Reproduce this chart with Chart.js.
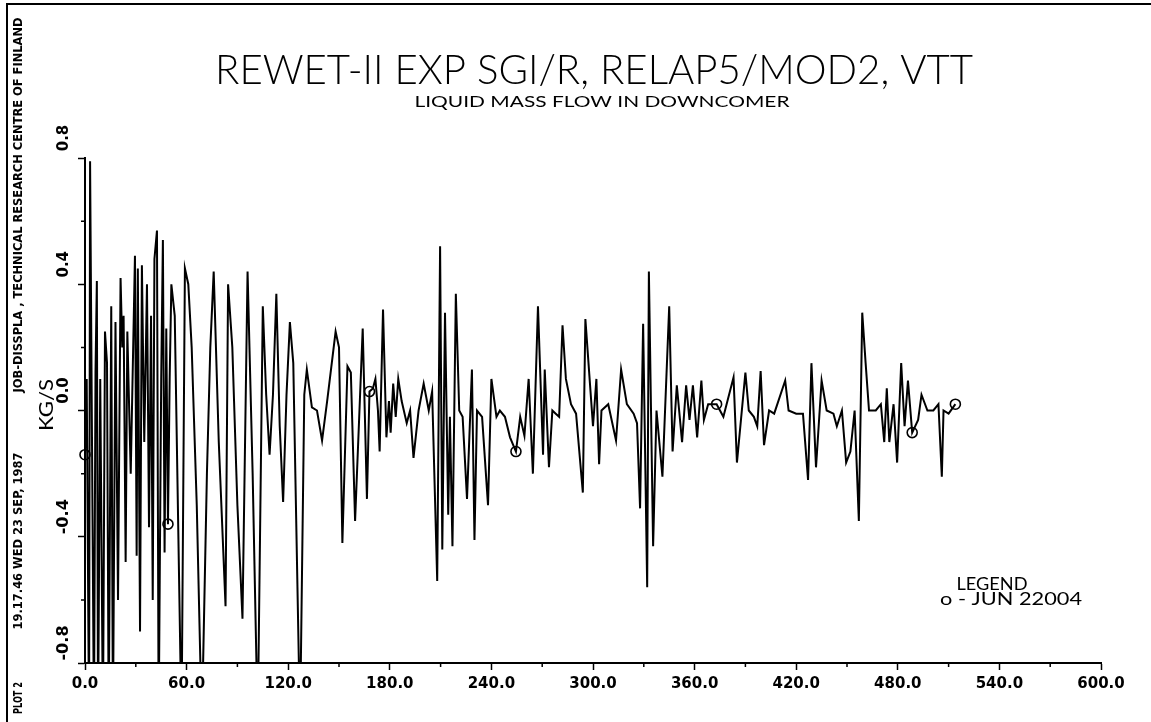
<!DOCTYPE html>
<html>
<head>
<meta charset="utf-8">
<script src="https://cdn.jsdelivr.net/npm/chart.js@4.4.1/dist/chart.umd.min.js"></script>
<style>
  html, body { margin: 0; padding: 0; background: #fff; }
  #plot { display: block; }
</style>
</head>
<body>
<canvas id="plot" width="1151" height="722"></canvas>
<script>
// time (s) and liquid mass flow (kg/s); values below -0.8 run off the axis
const timeSec = [
  0, 1, 2.4, 3, 5.3, 6.2, 7, 7.7, 9, 10.6, 11.8, 13, 14, 15.5, 16.5, 18, 19.5, 21, 22, 22.8, 24,
  25, 27, 29.5, 30.5, 31.2, 32.5, 33.6, 35, 36.6, 37.8, 39, 40, 41, 42.5, 43.5, 45, 46, 47, 48, 49,
  50, 51, 53, 57, 59, 61, 63, 66, 69, 72, 74, 76, 79, 83, 84.5, 87, 90, 93, 96, 99,
  102, 105, 107, 109, 111, 113, 115, 117, 119, 121, 123, 127, 129.5, 131, 134, 137, 140, 143, 148, 150,
  152, 155, 157, 159.5, 164, 166.5, 168, 170, 171.5, 173, 174, 176, 178, 179.5, 180.5, 182, 183.5, 185, 187, 190,
  192, 194, 197, 200, 203, 205, 208, 209.7, 211, 212.6, 214.5, 215.5, 217, 219, 221, 223, 225.6, 228.5, 230, 231.5,
  234.5, 238, 240, 243, 245, 248, 251, 254.5, 257, 259.5, 262, 264.5, 267.5, 270.5, 271.5, 274, 276, 278, 280, 282,
  284, 287, 290, 294, 295.5, 298, 300, 302, 303.6, 305, 309, 313.6, 316.6, 320, 324, 326, 327.8, 329.6, 332, 333,
  335.5, 337.5, 341, 345, 347, 349.5, 352.6, 355, 357, 359, 361.5, 364, 365.5, 368, 373, 377, 383, 385, 390, 392,
  395, 397, 399, 401, 404, 407, 413.5, 415.5, 420, 424, 427, 429, 431.7, 435, 438, 442, 444, 447, 449.5, 452,
  454.5, 457, 459, 461, 463, 467, 470, 472, 473.5, 475, 477.5, 479.6, 482, 484, 486, 488.5, 492, 494, 497.5, 501,
  504, 506, 507, 510, 514
];
const flowKgs = [
  -0.14, 0.10, -1.0, 0.79, -1.0, 0.12, 0.41, -1.0, 0.10, -1.0, 0.25, 0.15, -1.0, 0.33, -1.0, 0.28, -0.60, 0.42, 0.20, 0.30, -0.48,
  0.25, -0.20, 0.49, -0.46, 0.45, -0.70, 0.46, -0.10, 0.40, -0.37, 0.30, -0.60, 0.48, 0.57, -1.0, 0.10, 0.54, -0.45, 0.26, -0.36,
  0.10, 0.40, 0.30, -1.0, 0.45, 0.40, 0.20, -0.30, -1.0, -0.20, 0.20, 0.44, -0.10, -0.62, 0.40, 0.20, -0.30, -0.66, 0.44, -0.20,
  -1.0, 0.33, 0.05, -0.14, 0.05, 0.37, -0.05, -0.29, 0.05, 0.28, 0.15, -1.0, 0.05, 0.13, 0.01, 0.00, -0.095, 0.03, 0.25, 0.20,
  -0.42, 0.14, 0.12, -0.35, 0.26, -0.28, 0.06, 0.07, 0.10, 0.00, -0.13, 0.32, -0.085, 0.03, -0.07, 0.085, -0.02, 0.10, 0.03, -0.04,
  0.00, -0.15, 0.00, 0.085, 0.00, 0.06, -0.54, 0.52, -0.44, 0.31, -0.33, -0.02, -0.43, 0.37, 0.00, -0.02, -0.28, 0.13, -0.41, 0.00,
  -0.02, -0.30, 0.10, -0.02, 0.00, -0.02, -0.085, -0.13, -0.02, -0.08, 0.10, -0.20, 0.33, -0.14, 0.13, -0.18, 0.00, -0.01, -0.02, 0.27,
  0.10, 0.02, -0.01, -0.26, 0.29, 0.10, -0.05, 0.10, -0.17, 0.00, 0.02, -0.095, 0.13, 0.02, -0.01, -0.04, -0.31, 0.275, -0.56, 0.44,
  -0.43, 0.00, -0.21, 0.33, -0.13, 0.08, -0.10, 0.08, -0.03, 0.08, -0.085, 0.095, -0.03, 0.02, 0.02, -0.02, 0.105, -0.165, 0.12, 0.00,
  -0.02, -0.05, 0.125, -0.11, 0.00, -0.01, 0.095, 0.00, -0.01, -0.01, -0.22, 0.15, -0.18, 0.095, 0.00, -0.01, -0.05, 0.00, -0.165, -0.13,
  0.00, -0.35, 0.31, 0.15, 0.00, 0.00, 0.02, -0.10, 0.07, -0.10, 0.02, -0.165, 0.15, -0.05, 0.095, -0.07, -0.03, 0.05, 0.00, 0.00,
  0.02, -0.21, 0.00, -0.01, 0.02
];
// samples that carry the circle symbol
const markedTimes = [0, 49, 168, 254.5, 373, 488.5, 514];
const yTickValues = [-0.8, -0.4, 0.0, 0.4, 0.8];
const seriesName = 'JUN 22004';

const FONT = '"DejaVu Sans Condensed", "DejaVu Sans", sans-serif';
const THIN = '"Lato", "Open Sans", "DejaVu Sans", sans-serif';

// draw text squeezed/stretched to a given width, optionally rotated
function fitText(ctx, text, cx, cy, width, font, rot, sy) {
  ctx.save();
  ctx.font = font;
  const w = ctx.measureText(text).width;
  ctx.translate(cx, cy);
  if (rot) ctx.rotate(rot);
  ctx.scale(width / w, sy || 1);
  ctx.textAlign = 'center';
  ctx.textBaseline = 'middle';
  ctx.fillStyle = '#000';
  ctx.fillText(text, 0, 0);
  ctx.restore();
}

const decor = {
  id: 'decor',
  afterDraw(chart) {
    const ctx = chart.ctx;
    const xs = chart.scales.x, ys = chart.scales.y;

    // frame of the sheet
    ctx.save();
    ctx.strokeStyle = '#000';
    ctx.lineWidth = 2;
    ctx.beginPath();
    ctx.moveTo(1151, 4); ctx.lineTo(7, 4); ctx.lineTo(7, 722);
    ctx.stroke();

    // minor ticks
    ctx.lineWidth = 1.5;
    ctx.beginPath();
    for (let t = 30; t < 600; t += 60) {
      const px = xs.getPixelForValue(t);
      ctx.moveTo(px, xs.top); ctx.lineTo(px, xs.top + 4);
    }
    for (let v = -0.6; v < 0.8; v += 0.4) {
      const py = ys.getPixelForValue(v);
      ctx.moveTo(ys.right, py); ctx.lineTo(ys.right - 4, py);
    }
    ctx.stroke();
    ctx.restore();

    // titles
    fitText(ctx, 'REWET-II EXP SGI/R, RELAP5/MOD2, VTT', 594, 71, 758, '300 39px ' + THIN, 0, 1.05);
    fitText(ctx, 'LIQUID MASS FLOW IN DOWNCOMER', 602, 102, 375, '400 16px ' + THIN, 0, 1);

    // y tick labels, rotated like the original
    yTickValues.forEach(v => {
      const py = ys.getPixelForValue(v);
      const txt = v.toFixed(1);
      fitText(ctx, txt, 64, py - 20, txt.length * 8.8, 'bold 15px ' + FONT, -Math.PI / 2);
    });
    fitText(ctx, 'KG/S', 47, 405, 52, '19px ' + THIN, -Math.PI / 2);

    // run stamp in the margin
    fitText(ctx, 'PLOT 2', 19, 698, 32, 'bold 12px ' + FONT, -Math.PI / 2);
    fitText(ctx, '19.17.46 WED 23 SEP, 1987', 19, 541, 177, 'bold 12px ' + FONT, -Math.PI / 2);
    fitText(ctx, 'JOB-DISSPLA , TECHNICAL RESEARCH CENTRE OF FINLAND', 19, 205, 375, 'bold 12px ' + FONT, -Math.PI / 2);

    // legend
    fitText(ctx, 'LEGEND', 992, 584, 71, '18px ' + THIN, 0);
    fitText(ctx, 'o - ' + chart.data.datasets[0].label, 1011, 599, 142, '18px ' + THIN, 0);
  }
};

const points = timeSec.map((t, i) => ({ x: t, y: flowKgs[i] }));

new Chart(document.getElementById('plot'), {
  type: 'line',
  data: {
    datasets: [{
      label: seriesName,
      data: points,
      borderColor: '#000',
      borderWidth: 2,
      tension: 0,
      clip: { left: 8, top: 2, right: 2, bottom: 1 },
      pointRadius: ctx => markedTimes.includes(timeSec[ctx.dataIndex]) ? 5 : 0,
      pointBorderColor: '#000',
      pointBackgroundColor: 'rgba(0,0,0,0)',
      pointBorderWidth: 1.6
    }]
  },
  options: {
    responsive: false,
    animation: false,
    devicePixelRatio: 1,
    layout: { padding: { left: 0, right: 50, top: 158, bottom: 0 } },
    plugins: { legend: { display: false }, tooltip: { enabled: false }, title: { display: false } },
    scales: {
      x: {
        type: 'linear',
        min: 0, max: 600,
        afterFit: s => { s.height = 59; },
        ticks: {
          stepSize: 60,
          autoSkip: false,
          maxRotation: 0,
          padding: 5,
          color: '#000',
          font: { family: '"DejaVu Sans", sans-serif', size: 15, weight: 'bold' },
          callback: v => v.toFixed(1)
        },
        grid: { drawOnChartArea: false, tickLength: 7, color: '#000', tickWidth: 1.5 },
        border: { color: '#000', width: 2 }
      },
      y: {
        min: -0.8, max: 0.8,
        afterFit: s => { s.width = 85; },
        ticks: { stepSize: 0.4, display: false },
        grid: { drawOnChartArea: false, tickLength: 7, color: '#000', tickWidth: 1.5 },
        border: { color: '#000', width: 2 }
      }
    }
  },
  plugins: [decor]
});
</script>
</body>
</html>
